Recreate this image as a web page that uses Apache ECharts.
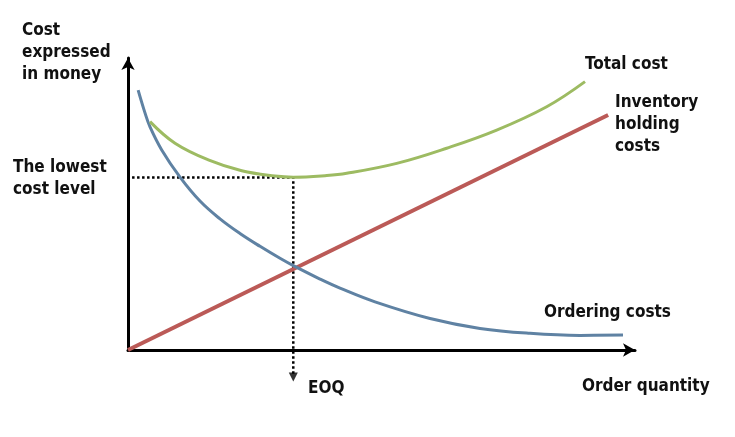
<!DOCTYPE html>
<html>
<head>
<meta charset="utf-8">
<script src="https://cdn.jsdelivr.net/npm/echarts@6/dist/echarts.min.js"></script>
<style>
  html, body { margin: 0; padding: 0; background: #fff; }
  #main { width: 735px; height: 437px; }
</style>
</head>
<body>
<div id="main"></div>
<script>
// values (x: order quantity, y: cost, both 0..100)
const orderingX = [2.0, 3.35, 4.34, 6.65, 10.26, 14.2, 18.15, 22.09, 26.04, 29.98, 32.8, 37.87, 41.81, 48.72, 59.57, 69.43, 79.29, 89.15, 97.63]
const orderingY = [89.0, 81.2, 76.4, 68.5, 59.2, 51.0, 44.9, 39.9, 35.5, 31.4, 28.7, 24.3, 21.2, 16.5, 10.8, 7.4, 5.7, 5.0, 5.1]

const holdingX = [0, 94.7]
const holdingY = [0, 80.5]

const totalX = [4.34, 9.27, 15.84, 22.43, 28.99, 32.6, 38.86, 43.14, 53.0, 62.86, 72.72, 82.58, 90.14]
const totalY = [78.2, 70.8, 65.1, 61.4, 59.6, 59.2, 59.7, 60.5, 63.9, 69.1, 75.3, 83.3, 91.9]

const eoq = 32.6
const lowestCost = 59.1
const eoqArrowEnd = -8.6

const font = '"DejaVu Sans Condensed", "DejaVu Sans", sans-serif'

const zip = (xs, ys) => xs.map((x, i) => [x, ys[i]])

const chart = echarts.init(document.getElementById('main'))

// plain bold label placed on the canvas
function label(text, x, y) {
  return {
    type: 'text',
    left: x,
    top: y,
    style: {
      text: text,
      fill: '#111',
      font: 'bold 17px ' + font,
      lineHeight: 22
    }
  }
}

chart.setOption({
  animation: false,
  grid: { left: 128, right: 100, top: 58, bottom: 87 },
  xAxis: {
    type: 'value',
    min: 0,
    max: 100,
    axisLine: {
      lineStyle: { color: '#000', width: 3 },
      symbol: ['none', 'arrow'],
      symbolSize: [10, 12]
    },
    axisTick: { show: false },
    axisLabel: { show: false },
    splitLine: { show: false }
  },
  yAxis: {
    type: 'value',
    min: 0,
    max: 100,
    axisLine: {
      show: true,
      lineStyle: { color: '#000', width: 3 },
      symbol: ['none', 'arrow'],
      symbolSize: [10, 12]
    },
    axisTick: { show: false },
    axisLabel: { show: false },
    splitLine: { show: false }
  },
  series: [
    {
      name: 'Lowest cost',
      type: 'line',
      data: [[0.8, lowestCost], [eoq, lowestCost], [eoq, eoqArrowEnd]],
      symbol: 'none',
      clip: false,
      lineStyle: { color: '#000', width: 2.5, type: [2.5, 2.5] },
      z: 1
    },
    {
      name: 'EOQ arrow',
      type: 'scatter',
      data: [[eoq, eoqArrowEnd]],
      symbol: 'triangle',
      symbolSize: [9, 9],
      symbolRotate: 180,
      symbolOffset: [0, 2],
      clip: false,
      itemStyle: { color: '#000' }
    },
    {
      name: 'Ordering costs',
      type: 'line',
      smooth: 0.4,
      symbol: 'none',
      data: zip(orderingX, orderingY),
      lineStyle: { color: '#5f82a3', width: 3 },
      z: 3
    },
    {
      name: 'Inventory holding costs',
      type: 'line',
      symbol: 'none',
      data: zip(holdingX, holdingY),
      lineStyle: { color: '#bb5a57', width: 4 },
      z: 2
    },
    {
      name: 'Total cost',
      type: 'line',
      smooth: 0.4,
      symbol: 'none',
      data: zip(totalX, totalY),
      lineStyle: { color: '#9dbb62', width: 3 },
      z: 3
    }
  ],
  graphic: [
    label('Cost\nexpressed\nin money', 22, 20),
    label('The lowest\ncost level', 13, 157),
    label('Total cost', 585, 54),
    label('Inventory\nholding\ncosts', 615, 92),
    label('Ordering costs', 544, 302),
    label('EOQ', 308, 378),
    label('Order quantity', 582, 376)
  ]
})
</script>
</body>
</html>
